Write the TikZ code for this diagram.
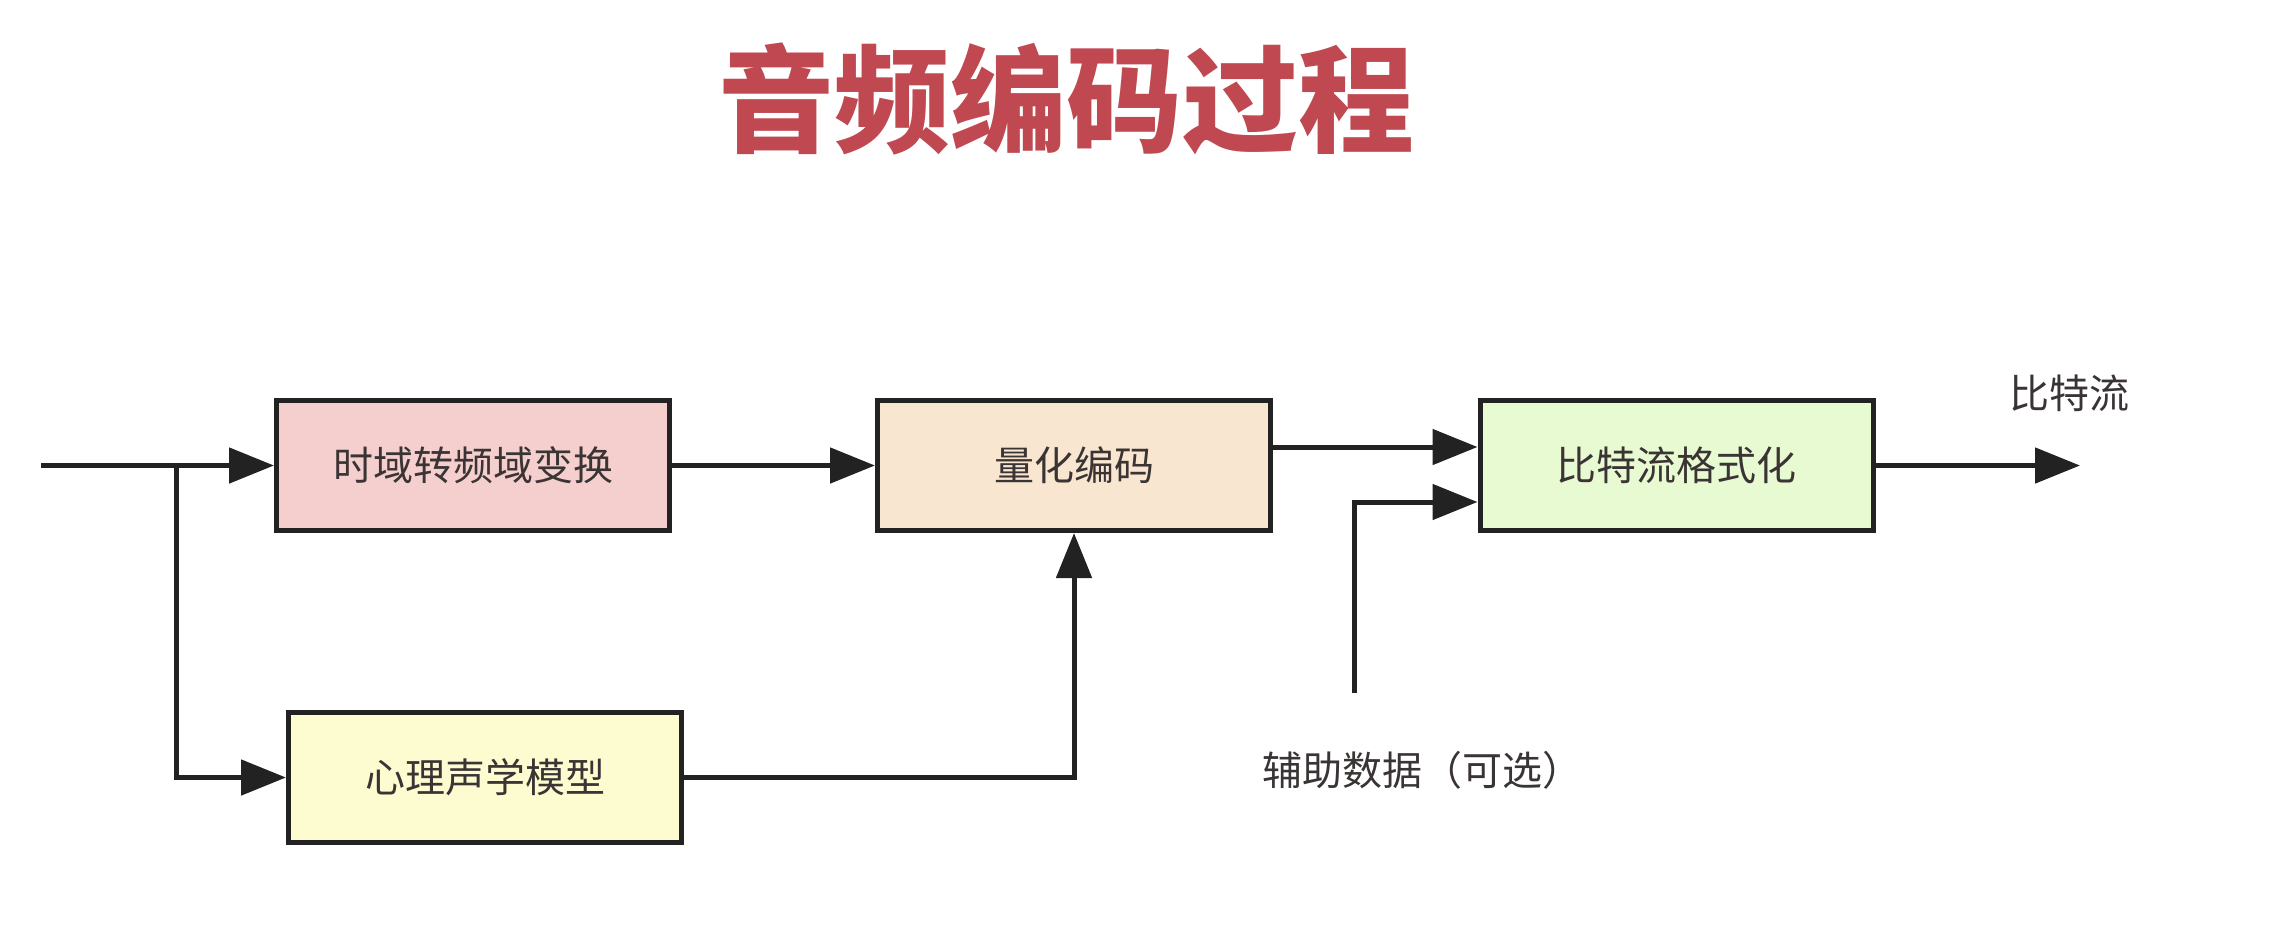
\documentclass[tikz,border=0pt]{standalone}
\usepackage{fontspec}
\newfontfamily\cjk{Noto Sans CJK SC}
\usetikzlibrary{arrows.meta}
\definecolor{titlered}{RGB}{192,72,80}
\definecolor{ink}{RGB}{34,34,34}
\definecolor{txt}{RGB}{58,52,52}
\definecolor{fpink}{RGB}{245,206,206}
\definecolor{fpeach}{RGB}{249,230,208}
\definecolor{fgreen}{RGB}{232,250,210}
\definecolor{fyellow}{RGB}{252,252,208}
\tikzset{
  blockbox/.style={draw=ink, line width=5pt, minimum width=393pt, minimum height=130pt,
    text=txt, font=\cjk\fontsize{40pt}{48pt}\selectfont, inner sep=0pt},
  lbltext/.style={text=txt, font=\cjk\fontsize{40pt}{48pt}\selectfont, inner sep=0pt},
  conn/.style={draw=ink, line width=5pt},
  arr/.style={conn, -{Triangle[length=45pt,width=35pt]}}
}
\begin{document}
\begin{tikzpicture}[x=1pt,y=-1pt]
\useasboundingbox[fill=white] (0,0) rectangle (2274,938);
\node[text=titlered, font=\cjk\bfseries\fontsize{116pt}{130pt}\selectfont, inner sep=0pt] (title) at (1066,99) {音频编码过程};
\node[blockbox, fill=fpink] (b1) at (473,465.5) {时域转频域变换};
\node[blockbox, fill=fpeach] (b2) at (1074,465.5) {量化编码};
\node[blockbox, fill=fgreen] (b3) at (1676.5,465.5) {比特流格式化};
\node[blockbox, fill=fyellow] (b4) at (485,777.5) {心理声学模型};
\node[lbltext] (bs) at (2069,393) {比特流};
\node[lbltext] (aux) at (1422,770) {辅助数据（可选）};
\coordinate (in) at (41,465.5);
\coordinate (br) at (176,465.5);
\coordinate (auxs) at (1354,693);
\coordinate (out) at (2080,465.5);
\draw[arr] (in) -- (b1.west);
\draw[arr] (br) |- (b4.west);
\draw[arr] (b1.east) -- (b2.west);
\draw[arr] (b4.east) -| (b2.south);
\draw[arr] ([yshift=18.5pt]b2.east) -- ([yshift=18.5pt]b3.west);
\draw[arr] (auxs) |- ([yshift=-36.5pt]b3.west);
\draw[arr] (b3.east) -- (out);
\end{tikzpicture}
\end{document}
